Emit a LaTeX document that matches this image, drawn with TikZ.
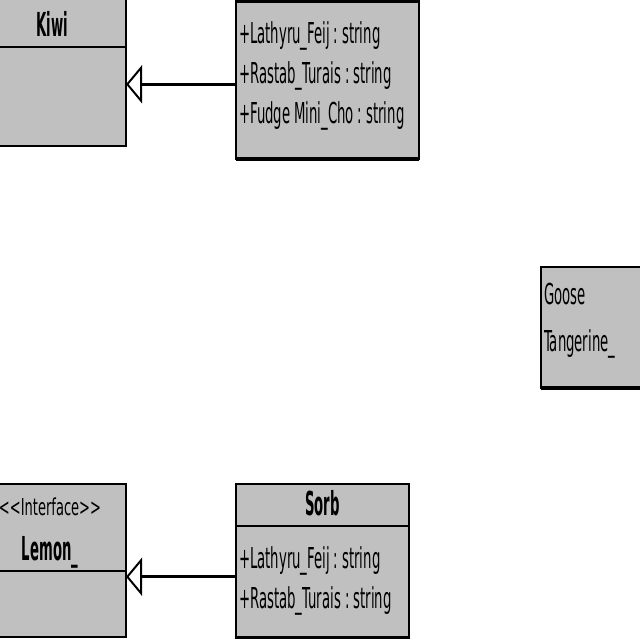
\documentclass[tikz,border=0pt]{standalone}
\usepackage{fontspec}
\setmainfont{DejaVu Sans}[FakeStretch=0.46]
\newfontfamily\namefamily{DejaVu Sans}[FakeStretch=0.4]
\newfontfamily\stereofamily{DejaVu Sans}[FakeStretch=0.56]
\usepackage{tikz}
\usetikzlibrary{arrows.meta,positioning}
\definecolor{UMLFill}{RGB}{192,192,192}
\newcommand\attrfont{\fontsize{28.8}{40}\selectfont}
\newcommand\notefont{\fontsize{28.8}{47}\selectfont}
\newcommand\namefont{\namefamily\bfseries\fontsize{33}{45}\selectfont}
\newcommand\stereofont{\stereofamily\mdseries\fontsize{23.3}{45}\selectfont}

\begin{document}
\begin{tikzpicture}[
      x=1pt,y=-1pt,
      classbox/.style={draw=black,line width=2.4pt,fill=UMLFill,
        anchor=north west,inner sep=0pt,outer sep=0pt},
      classhead/.style={classbox,align=center,font=\namefont},
      classbody/.style={classbox,align=left,inner xsep=3pt,font=\attrfont,
        execute at begin node={\spaceskip=4pt\xspaceskip=4pt\relax}},
      inherit/.style={-{Triangle[open,length=16pt,width=38pt,line width=2pt]},
        line width=2.6pt},
      bottomedge/.style={line width=4.5pt}
    ]
      \useasboundingbox (0,0) rectangle (640,640);
      \clip (0,0) rectangle (640,640);

      \node[classhead,text width=148pt,text height=42pt,text depth=11pt]
        (kiwi) at (-22,-6) {Kiwi};
      \node[classbody,text width=142pt,minimum height=99pt]
        (kiwibody) at (kiwi.south west) {};

      \node[classhead,text width=183pt,minimum height=51.5pt]
        (fruit) at (236,-50) {};
      \node[classbody,text width=177pt,text height=41.5pt,text depth=116pt]
        (fruitbody) at (fruit.south west)
        {+Lathyru\_Feij : string\\+Rastab\_Turais : string\\+Fudge Mini\_Cho : string};

      \node[classbody,font=\notefont,text width=150pt,
        text height=37pt,text depth=84pt]
        (goose) at (541,267) {Goose\\Tangerine\_};

      \node[classhead,text width=152pt,text height=31pt,text depth=56pt]
        (lemon) at (-26,484)
        {{\stereofont <\kern0pt<Interface>\kern0pt>}\\{\namefont Lemon\_}};
      \node[classbody,text width=146pt,minimum height=66pt]
        (lemonbody) at (lemon.south west) {};

      \node[classhead,text width=173pt,text height=31pt,text depth=11pt]
        (sorb) at (236,484) {Sorb};
      \node[classbody,text width=167pt,text height=42pt,text depth=69.5pt]
        (sorbbody) at (sorb.south west)
        {+Lathyru\_Feij : string\\+Rastab\_Turais : string};

      \draw[bottomedge] (fruitbody.south west) -- (fruitbody.south east);
      \draw[bottomedge] (goose.south west) -- (goose.south east);

      \draw[inherit] ([yshift=-4pt]fruitbody.west) --
        ([yshift=-4pt]fruitbody.west -| kiwibody.east);
      \draw[inherit] ([yshift=5pt]sorbbody.west) --
        ([yshift=5pt]sorbbody.west -| lemonbody.east);
    \end{tikzpicture}
\end{document}
